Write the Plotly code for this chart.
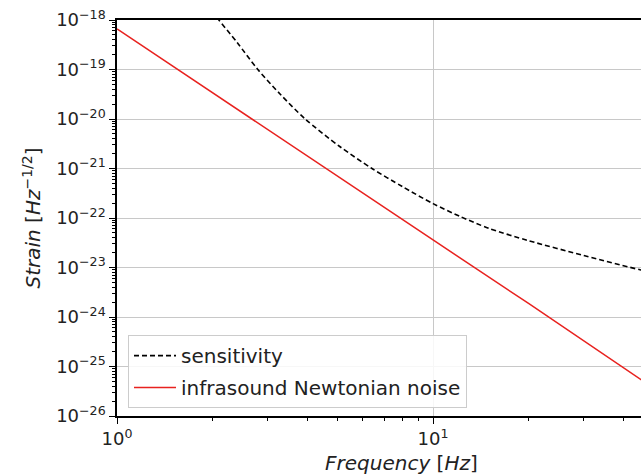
import plotly.graph_objects as go

# Data
sens_freq = [2.0, 2.1, 2.4, 2.79, 3.28, 3.94, 5.08, 6.41, 8.0, 10.0, 12.2, 15.0, 20.0, 30.0, 45.5, 50.0]
sens_strain = [1.5e-18, 1.0e-18, 3.5e-19, 1.0e-19, 3.2e-20, 1.0e-20, 2.75e-21, 1.0e-21, 4.3e-22,
               1.95e-22, 1.07e-22, 6.2e-23, 3.5e-23, 1.75e-23, 8.9e-24, 7.8e-24]

nn_freq = [1.0, 2.0, 3.28, 5.0, 10.0, 20.0, 45.5, 50.0]
nn_strain = [6.6e-19, 3.4e-20, 4.2e-21, 6.8e-22, 3.6e-23, 1.9e-24, 5.4e-26, 3.6e-26]

x_tickvals = [1, 10]
x_ticktext = ["10<sup>0</sup>", "10<sup>1</sup>"]
y_exponents = [-18, -19, -20, -21, -22, -23, -24, -25, -26]
y_tickvals = [10.0 ** e for e in y_exponents]
y_ticktext = ["10<sup>\u2212%d</sup>" % (-e) for e in y_exponents]

FONT = "DejaVu Sans"
TXT = "#222222"

fig = go.Figure()
fig.add_trace(go.Scatter(
    x=sens_freq, y=sens_strain, mode="lines", name="sensitivity", legendgroup="a",
    line=dict(color="black", width=1.6, dash="5px,3px", shape="spline", smoothing=0.8),
))
fig.add_trace(go.Scatter(
    x=nn_freq, y=nn_strain, mode="lines", name="infrasound Newtonian noise", legendgroup="b",
    line=dict(color="#e8221f", width=1.5),
))

W, H = 641, 476
L, T, B = 117, 20, 60
fig.update_layout(
    width=W, height=H,
    margin=dict(l=L, r=0, t=T, b=B, pad=0),
    paper_bgcolor="white", plot_bgcolor="white",
    font=dict(family=FONT, size=18, color=TXT),
    showlegend=True,
    legend=dict(
        x=0.021, y=0.02, xanchor="left", yanchor="bottom",
        bgcolor="rgba(255,255,255,0.85)", bordercolor="#cccccc", borderwidth=1,
        font=dict(family=FONT, size=20, color=TXT),
        tracegroupgap=3, itemwidth=42,
    ),
    xaxis=dict(
        type="log", range=[0, 1.658],
        showline=True, linecolor="black", linewidth=1.5, mirror=True,
        ticks="outside", ticklen=6, tickwidth=1.2, tickcolor="black",
        tickvals=x_tickvals, ticktext=x_ticktext,
        showgrid=True, gridcolor="#c8c8c8", gridwidth=1,
        zeroline=False,
        tickfont=dict(family=FONT, size=18, color=TXT),
        minor=dict(ticks="outside", ticklen=3, tickcolor="black", showgrid=False,
                   tickvals=[2, 3, 4, 5, 6, 7, 8, 9, 20, 30, 40]),
    ),
    yaxis=dict(
        type="log", range=[-26, -18],
        showline=True, linecolor="black", linewidth=1.5, mirror=False,
        ticks="outside", ticklen=6, tickwidth=1.2, tickcolor="black",
        tickvals=y_tickvals, ticktext=y_ticktext,
        showgrid=True, gridcolor="#c8c8c8", gridwidth=1,
        zeroline=False,
        tickfont=dict(family=FONT, size=18, color=TXT),
        minor=dict(ticks="outside", ticklen=3, tickcolor="black", showgrid=False, dtick="D1"),
        title=dict(text="<i>Strain</i> [<i>Hz</i><sup>\u22121/2</sup>]",
                   font=dict(family=FONT, size=20, color=TXT), standoff=10),
    ),
)

# x-axis title: the original plot is cropped on the right, so its title sits right of the visible centre
fig.add_annotation(
    x=(401 - L) / (W - L), y=-(463 - 416) / 396, xref="x domain", yref="y domain",
    showarrow=False, text="<i>Frequency</i> [<i>Hz</i>]",
    font=dict(family=FONT, size=20, color=TXT),
    xanchor="center", yanchor="middle",
)

fig.write_html("out.html")
